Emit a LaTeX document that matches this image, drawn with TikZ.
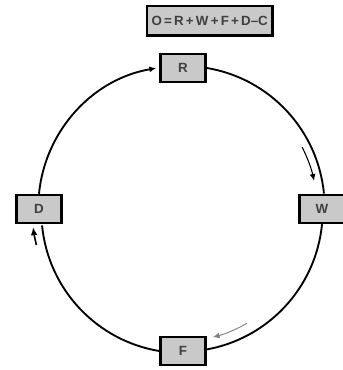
\documentclass[tikz,border=0pt]{standalone}
\usepackage{fontspec}
\setmainfont{Liberation Sans}
\usetikzlibrary{arrows.meta,positioning}
\definecolor{boxgray}{HTML}{C9C9C9}
\definecolor{inkgray}{HTML}{404040}

\begin{document}
\begin{tikzpicture}[x=0.75pt,y=0.75pt,node distance=12pt,
  term/.style={draw,line width=1.8pt,fill=boxgray,minimum width=34pt,minimum height=21pt,
    inner sep=0pt,font=\fontsize{10}{12}\selectfont\bfseries,text=inkgray},
  loop/.style={line width=1.4pt},
  tip/.style={-{Latex[length=5pt,width=4.5pt]}}]
  \useasboundingbox (0,0) rectangle (342,370);
  \coordinate (C) at (181,161);
  \node[term] (R) at (183,302) {R};
  \node[term] (W) at (322,161) {W};
  \node[term] (F) at (183,19) {F};
  \node[term] (D) at (39,161) {D};
  \node[term,above=of R,xshift=20pt,minimum width=94pt,minimum height=22pt] (eq) {O\,=\,R\,+\,W\,+\,F\,+\,D--C};
  % the cycle, clockwise
  \draw[loop,tip] (D.north) arc[start angle=174.5,end angle=99.5,radius=141];
  \draw[loop] (R.east) arc[start angle=80.5,end angle=5.5,radius=141];
  \draw[loop] (W.south) arc[start angle=-5.5,end angle=-80.5,radius=141];
  \draw[loop] (F.west) arc[start angle=-99.5,end angle=-174.5,radius=141];
  % short direction marks beside the ring
  \draw[line width=0.8pt,tip] ([shift={(27:136)}]C) arc[start angle=27,end angle=12,radius=136];
  \draw[gray,line width=0.7pt,tip] ([shift={(-60:132)}]C) arc[start angle=-60,end angle=-76,radius=132];
  \draw[line width=1.2pt,-{Latex[length=6pt,width=5pt]}] ([shift={(194:149)}]C) arc[start angle=194,end angle=187,radius=149];
\end{tikzpicture}
\end{document}
